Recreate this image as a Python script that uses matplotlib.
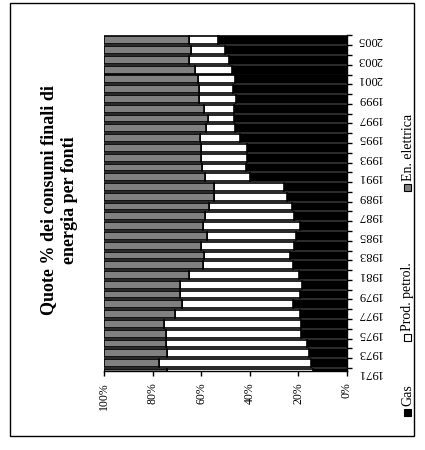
"""
Quote % dei consumi finali di energia per fonti
Stacked 100% bars, drawn turned on its side like the scanned original.
"""
import matplotlib
matplotlib.use('Agg')
import matplotlib.pyplot as plt
import matplotlib.transforms as mtransforms
from matplotlib.patches import Rectangle

plt.rcParams['font.family'] = ['Liberation Serif', 'DejaVu Serif']

# data, 1971 -> 2005 (percent shares)
years = list(range(1971, 2006))
gas = [13.9, 14.8, 15.7, 16.2, 19.0, 19.0, 19.2, 22.1, 19.2, 18.4,
       19.8, 22.2, 23.2, 21.7, 20.9, 19.4, 21.8, 22.7, 24.5, 25.7,
       39.7, 41.6, 41.1, 41.1, 44.1, 46.2, 46.3, 46.6, 45.6, 46.8,
       46.2, 47.4, 48.5, 50.3, 53.0]
petrol = [60.3, 62.5, 58.5, 58.1, 55.3, 56.3, 51.5, 45.6, 49.6, 50.2,
          45.1, 37.0, 35.6, 38.3, 36.7, 39.8, 36.6, 34.0, 30.2, 28.9,
          18.7, 17.9, 19.1, 19.1, 16.2, 11.9, 10.7, 12.1, 15.1, 13.9,
          15.1, 15.1, 16.4, 13.7, 12.0]
elec = [25.8, 22.7, 25.8, 25.7, 25.7, 24.7, 29.3, 32.3, 31.2, 31.4,
        35.1, 40.8, 41.2, 40.0, 42.4, 40.8, 41.6, 43.3, 45.3, 45.4,
        41.6, 40.5, 39.8, 39.8, 39.7, 41.9, 43.0, 41.3, 39.3, 39.3,
        38.7, 37.5, 35.1, 36.0, 35.0]
series_names = ['Gas', 'Prod. petrol.', 'En. elettrica']
pct_ticks = [0, 20, 40, 60, 80, 100]

colors = ['black', 'white', '#808080']
W, H = 425, 450

fig = plt.figure(figsize=(W / 100, H / 100), dpi=100)
ax = fig.add_axes([104 / W, 1 - 370.5 / H, 242.7 / W, 335.1 / H])

left = [0.0] * len(years)
for vals, col in zip([gas, petrol, elec], colors):
    ax.barh(years, vals, left=left, height=0.8, color=col,
            edgecolor='black', linewidth=1.2)
    left = [a + b for a, b in zip(left, vals)]

ax.set_xlim(100, 0)
ax.set_ylim(1971.235, 2005.5)

for s in ['top', 'left']:
    ax.spines[s].set_visible(False)
for s in ['right', 'bottom']:
    ax.spines[s].set_linewidth(1.0)

# value axis (bottom)
ax.set_xticks(pct_ticks)
ax.set_xticklabels([f"{p}%" for p in pct_ticks], rotation=90)
ax.tick_params(axis='x', direction='out', length=3.6, width=1.0,
               pad=5.0, labelsize=8.5)

# category axis (right side), ticks between categories
ax.yaxis.tick_right()
ax.set_yticks([y + 0.5 for y in years])
ax.tick_params(axis='y', direction='out', length=3.6, width=1.0,
               labelright=False, labelleft=False)

trans = mtransforms.blended_transform_factory(ax.transAxes, ax.transData)
for y in years[::2]:
    ax.text((357 - 104) / 242.7, y, str(y), transform=trans, rotation=180,
            ha='left', va='center', fontsize=9, clip_on=False)

# title
fig.text(59 / W, 1 - 200 / H, "Quote % dei consumi finali di\nenergia per fonti",
         rotation=90, ha='center', va='center', fontsize=13,
         fontweight='bold', linespacing=1.35, multialignment='center')

# legend, drawn by hand (rotated)
leg_sq = [412, 337, 187]   # square centre, px from top
for name, col, sy in zip(series_names, colors, leg_sq):
    fig.patches.append(Rectangle(((407 - 3.5) / W, 1 - (sy + 3.5) / H), 7 / W, 7 / H,
                                 transform=fig.transFigure, fc=col,
                                 ec='black', lw=0.8))
    fig.text(408 / W, 1 - (sy - 6) / H, name, rotation=90,
             ha='center', va='bottom', fontsize=10)

# outer frame
fig.patches.append(Rectangle((10 / W, 1 - 436 / H), 404 / W, 433 / H,
                             transform=fig.transFigure, fill=False,
                             ec='black', lw=1.0))

fig.savefig('out.png', dpi=100)
